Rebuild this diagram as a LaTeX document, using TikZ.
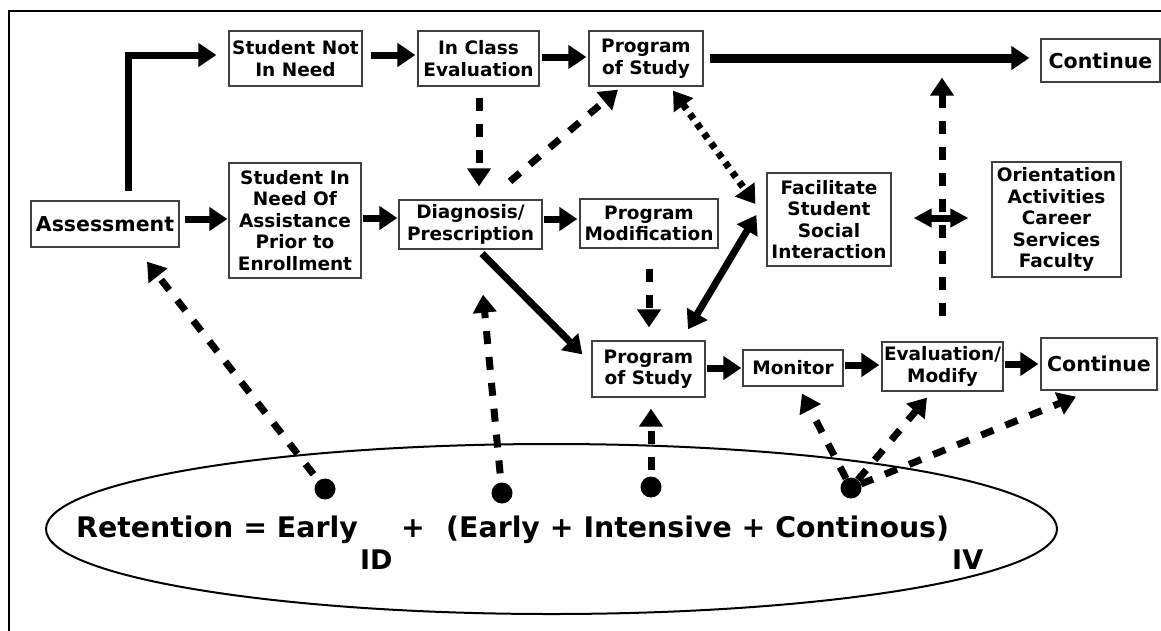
\documentclass[tikz,border=0pt]{standalone}
\usepackage{fontspec}
\setmainfont{DejaVu Sans}
\usetikzlibrary{arrows.meta,calc}
\newcommand{\boxfont}{\bfseries\fontsize{18.5}{21.5}\selectfont}
\newcommand{\bigboxfont}{\bfseries\fontsize{20.5}{24}\selectfont}
\newcommand{\eqfont}{\bfseries\fontsize{28.4}{32}\selectfont}
\newcommand{\subfont}{\bfseries\fontsize{27}{30}\selectfont}
\begin{document}
\begin{tikzpicture}[x=1pt,y=-1pt,
  box/.style={draw=black!75, line width=1.3pt, fill=white, inner sep=0pt,
              align=center, font=\boxfont},
  bigtip/.tip={Triangle[length=18pt,width=23pt]},
  smalltip/.tip={Triangle[length=18pt,width=18pt]},
  flow/.style={line width=7pt, -bigtip},
  flowboth/.style={line width=7pt, bigtip-bigtip},
  hint/.style={line width=7pt, dash pattern=on 13pt off 13pt, -bigtip},
  linkdots/.style={line width=7pt, dash pattern=on 6pt off 6pt, bigtip-bigtip},
  dot/.style={circle, fill=black, inner sep=0pt, minimum size=21pt}
]
\useasboundingbox (0,0) rectangle (1161,630);
\clip (0,0) rectangle (1161,630);

% outer frame
\draw[line width=2pt] (9,11) rectangle (1180,650);

% boxes
\node[box, minimum width=148pt, minimum height=46pt, font=\bigboxfont] (assess) at (105,224) {Assessment};
\node[box, minimum width=133pt, minimum height=55pt] (notneed) at (295.5,58.5) {Student Not\\In Need};
\node[box, minimum width=132pt, minimum height=115pt] (inneed) at (295,220.5) {Student In\\Need Of\\Assistance\\Prior to\\Enrollment};
\node[box, minimum width=121pt, minimum height=55pt] (inclass) at (478.5,58.5) {In Class\\Evaluation};
\node[box, minimum width=114pt, minimum height=55pt] (posTop) at (646,58.5) {Program\\of Study};
\node[box, minimum width=143pt, minimum height=49pt] (diag) at (470.5,224.5) {Diagnosis/\\Prescription};
\node[box, minimum width=138pt, minimum height=49pt] (progmod) at (649,223.5) {Program\\Modification};
\node[box, minimum width=124pt, minimum height=93pt] (facil) at (829,219.5) {Facilitate\\Student\\Social\\Interaction};
\node[box, minimum width=129pt, minimum height=115pt] (orient) at (1056.5,219.5) {Orientation\\Activities\\Career\\Services\\Faculty};
\node[box, minimum width=119pt, minimum height=43pt, font=\bigboxfont] (contTop) at (1100.5,60.5) {Continue};
\node[box, minimum width=113pt, minimum height=56pt] (posBot) at (648.5,369) {Program\\of Study};
\node[box, minimum width=100pt, minimum height=36pt] (monitor) at (793,368) {Monitor};
\node[box, minimum width=121pt, minimum height=49pt] (evalmod) at (942.5,366.5) {Evaluation/\\Modify};
\node[box, minimum width=116pt, minimum height=52pt, font=\bigboxfont] (contBot) at (1099,364) {Continue};

% retention equation
\draw[line width=2pt] (551.5,529) ellipse [x radius=505.5, y radius=85];
\node[anchor=base west, inner sep=0pt, font=\eqfont] (eqA) at (76,537) {Retention = Early};
\node[anchor=base, inner sep=0pt, font=\eqfont] (eqPlus) at (413,537) {+};
\node[anchor=base west, inner sep=0pt, font=\eqfont] (eqB) at (446,537) {(Early + Intensive + Continous)};
\node[anchor=base west, inner sep=0pt, font=\subfont] (idlab) at (360,569) {ID};
\node[anchor=base west, inner sep=0pt, font=\subfont] (ivlab) at (952,569) {IV};

\node[dot] (dotA) at (325,489) {};
\node[dot] (dotB) at (502,493) {};
\node[dot] (dotC) at (651,487) {};
\node[dot] (dotD) at (851,488) {};

% main flow
\draw[flow] ($(assess.north)+(23,-9)$) |- ($(notneed.west)+(-12,-3.5)$);
\draw[flow] ($(assess.east)+(5,-5)$) -- ($(inneed.west)+(-1,-1.5)$);
\draw[flow] ($(inneed.east)+(1,-2.5)$) -- ($(diag.west)+(-1,-6.5)$);
\draw[flow] ($(notneed.east)+(8,-3.5)$) -- ($(inclass.west)+(-2,-3.5)$);
\draw[flow] ($(inclass.east)+(2,-1.5)$) -- ($(posTop.west)+(-2,-1.5)$);
\draw[flow, line width=9pt] ($(posTop.east)+(6,-0.5)$) -- ($(contTop.west)+(-11,-2.5)$);
\draw[flow] ($(diag.east)+(1,-5.5)$) -- ($(progmod.west)+(-2,-4.5)$);
\draw[flow] ($(diag.south)+(11.5,4)$) -- ($(posBot.north west)+(-9,14)$);
\draw[flow] ($(posBot.east)+(1,-1)$) -- ($(monitor.west)+(-1,0)$);
\draw[flow] ($(monitor.east)+(1,-3)$) -- ($(evalmod.west)+(-2,-1.5)$);
\draw[flow] ($(evalmod.east)+(1,-2.5)$) -- ($(contBot.west)+(-2,0)$);
\draw[flowboth] ($(posBot.north)+(39.5,-11)$) -- ($(facil.west)+(-10,-4.5)$);
\draw[line width=7pt, smalltip-smalltip] ($(facil.east)+(22,-1.5)$) -- ($(orient.west)+(-23,-1.5)$);

% dashed links
\draw[hint] ($(inclass.south)+(0.5,11)$) -- ($(diag.north)+(8.5,-13)$);
\draw[hint] ($(diag.north)+(39.5,-18)$) -- ($(posTop.south)+(-28,3)$);
\draw[hint] ($(progmod.south)+(0,20)$) -- ($(posBot.north)+(0.5,-13)$);
\draw[hint] ($(evalmod.north)+(-0.5,-25)$) -- ($(evalmod.north |- contTop.south)+(-0.5,-5)$);
\draw[linkdots] ($(posTop.south)+(27,4)$) -- ($(facil.west)+(-11,-15.5)$);

\draw[hint, shorten <=8pt] (dotA) -- ($(assess.south)+(42,14)$);
\draw[hint, shorten <=9pt] (dotB) -- ($(diag.south)+(12.5,45)$);
\draw[hint, shorten <=6pt] (dotC) -- ($(posBot.south)+(2.5,11)$);
\draw[hint] (dotD) -- ($(monitor.south)+(9,7)$);
\draw[hint] (dotD) -- ($(evalmod.south)+(-15.5,6)$);
\draw[hint] (dotD) -- ($(contBot.south)+(-23,6)$);
\end{tikzpicture}
\end{document}
